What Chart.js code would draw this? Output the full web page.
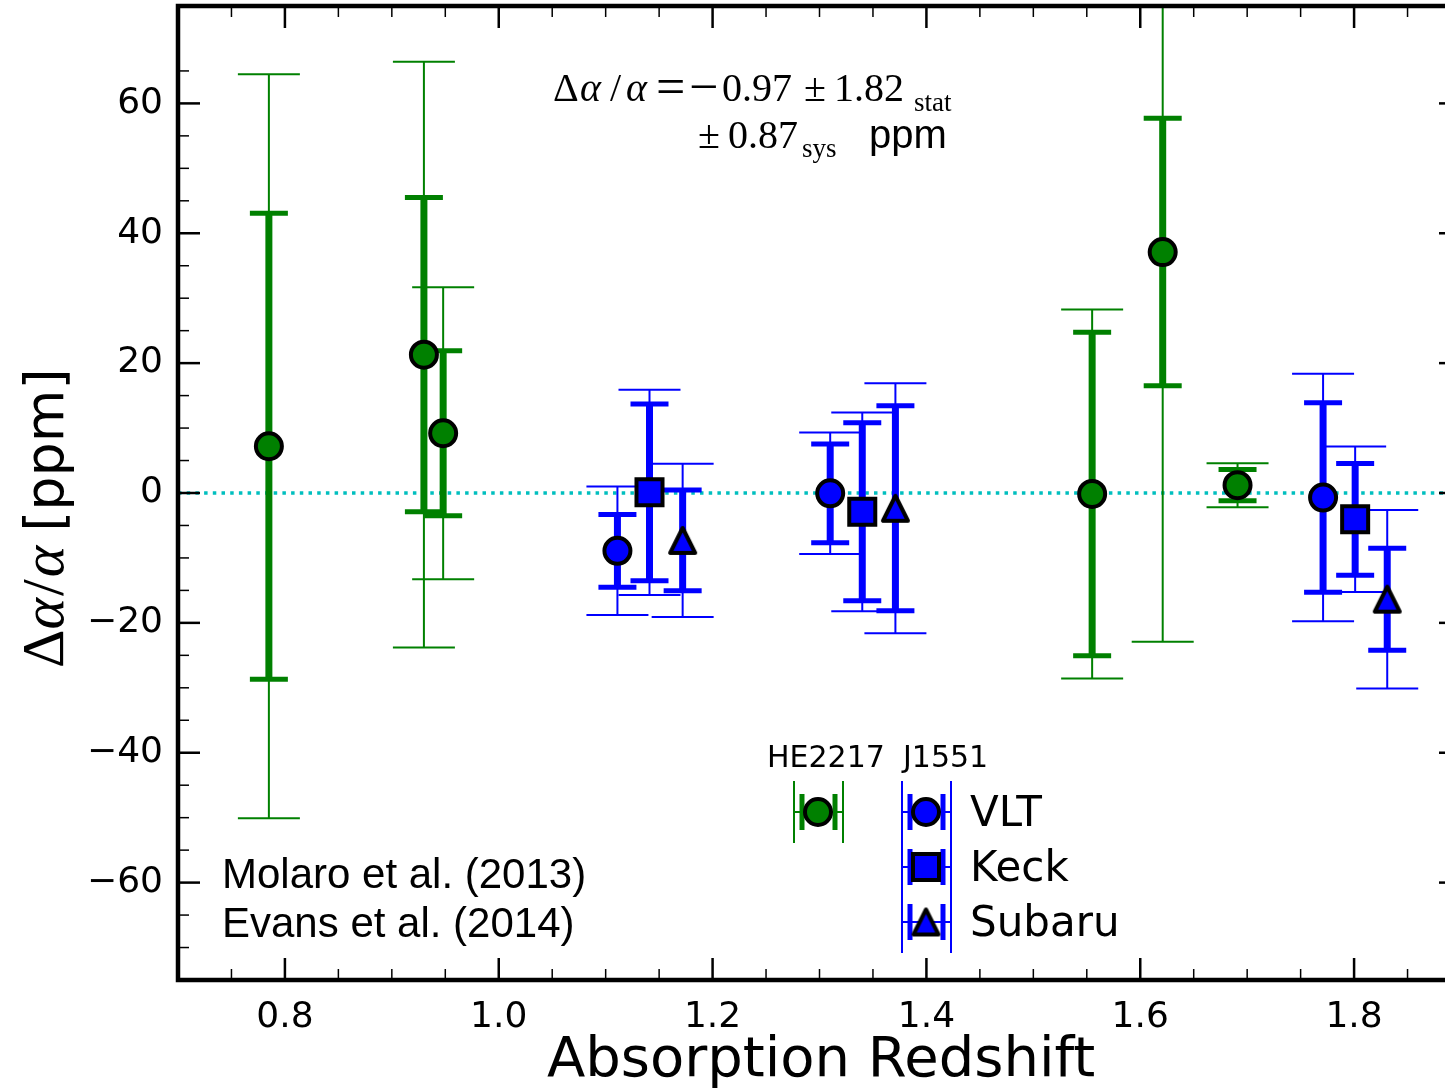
<!DOCTYPE html>
<html>
<head>
<meta charset="utf-8">
<script src="https://cdn.jsdelivr.net/npm/chart.js@4.4.1/dist/chart.umd.min.js"></script>
<style>
body { margin: 0; background: #fff; }
#wrap { width: 1445px; height: 1088px; overflow: hidden; }
</style>
</head>
<body>
<div id="wrap"><canvas id="chart" width="1461" height="1088"></canvas></div>
<script>
// ======================================
// DATA
// ======================================
// HE2217 (Molaro et al. 2013) - green
const heZ    = [0.785, 0.930, 0.948, 1.555, 1.621, 1.691];
const heVal  = [7.2, 21.3, 9.2, -0.15, 37.1, 1.2];
const heStat = [35.9, 24.2, 12.7, 24.9, 20.6, 2.4];
const heTot  = [57.3, 45.1, 22.5, 28.4, 60.0, 3.4];

// J1551 (Evans et al. 2014) - blue
const vltZ    = [1.111, 1.310, 1.771];
const vltVal  = [-8.9, -0.05, -0.7];
const vltStat = [5.6, 7.6, 14.6];
const vltTot  = [9.9, 9.35, 19.05];

const keckZ    = [1.141, 1.340, 1.801];
const keckVal  = [0.1, -2.9, -4.05];
const keckStat = [13.6, 13.7, 8.6];
const keckTot  = [15.8, 15.3, 11.2];

const subaruZ    = [1.172, 1.371, 1.831];
const subaruVal  = [-7.3, -2.35, -16.35];
const subaruStat = [7.75, 15.8, 7.85];
const subaruTot  = [11.8, 19.25, 13.75];

const zeroLine = 0;

const xTicks = [0.8, 1.0, 1.2, 1.4, 1.6, 1.8];
const xTickLabels = ["0.8", "1.0", "1.2", "1.4", "1.6", "1.8"];
const yTicks = [-60, -40, -20, 0, 20, 40, 60];
const yTickLabels = ["\u221260", "\u221240", "\u221220", "0", "20", "40", "60"];

const GREEN = "#008000";
const BLUE = "#0000ff";

// ======================================
// MARKERS
// ======================================
function makeTriangle(fill, h) {
    const c = document.createElement("canvas");
    const s = Math.ceil(2 * h + 16);
    c.width = s; c.height = s;
    const g = c.getContext("2d");
    const m = s / 2;
    g.beginPath();
    g.moveTo(m, m - h);
    g.lineTo(m - h, m + h);
    g.lineTo(m + h, m + h);
    g.closePath();
    g.fillStyle = fill;
    g.fill();
    g.lineWidth = 4;
    g.lineJoin = "round";
    g.strokeStyle = "#000";
    g.stroke();
    return c;
}
const triMarker = makeTriangle(BLUE, 12.5);

const pts = (zs, vs) => zs.map((z, i) => ({ x: z, y: vs[i] }));

// ======================================
// ERROR BARS + ANNOTATIONS PLUGIN
// ======================================
const errSets = [
    { z: heZ, v: heVal, stat: heStat, tot: heTot, color: GREEN },
    { z: vltZ, v: vltVal, stat: vltStat, tot: vltTot, color: BLUE },
    { z: keckZ, v: keckVal, stat: keckStat, tot: keckTot, color: BLUE },
    { z: subaruZ, v: subaruVal, stat: subaruStat, tot: subaruTot, color: BLUE }
];

function line(ctx, x1, y1, x2, y2) {
    ctx.beginPath();
    ctx.moveTo(x1, y1);
    ctx.lineTo(x2, y2);
    ctx.stroke();
}

const errorBars = {
    id: "errorBars",
    beforeDatasetsDraw(chart) {
        const { ctx, chartArea: a, scales: { x, y } } = chart;
        ctx.save();
        ctx.beginPath();
        ctx.rect(a.left, a.top, a.right - a.left, a.bottom - a.top);
        ctx.clip();

        // dotted zero line
        ctx.strokeStyle = "#00bfbf";
        ctx.lineWidth = 3.5;
        ctx.setLineDash([3.5, 5.2]);
        const y0 = y.getPixelForValue(zeroLine);
        line(ctx, a.left, y0, a.right, y0);
        ctx.setLineDash([]);

        errSets.forEach(s => {
            ctx.strokeStyle = s.color;
            s.z.forEach((z, i) => {
                const px = x.getPixelForValue(z);
                const top = y.getPixelForValue(s.v[i] + s.tot[i]);
                const bot = y.getPixelForValue(s.v[i] - s.tot[i]);
                ctx.lineWidth = 2;
                line(ctx, px, top, px, bot);
                line(ctx, px - 31, top, px + 31, top);
                line(ctx, px - 31, bot, px + 31, bot);
            });
            s.z.forEach((z, i) => {
                const px = x.getPixelForValue(z);
                const top = y.getPixelForValue(s.v[i] + s.stat[i]);
                const bot = y.getPixelForValue(s.v[i] - s.stat[i]);
                ctx.lineWidth = 7;
                line(ctx, px, top, px, bot);
                ctx.lineWidth = 5;
                line(ctx, px - 19, top, px + 19, top);
                line(ctx, px - 19, bot, px + 19, bot);
            });
        });
        ctx.restore();
    },
    afterDatasetsDraw(chart) {
        const { ctx, chartArea: a, scales: { x, y } } = chart;
        ctx.save();

        // ticks (inward)
        ctx.strokeStyle = "#000";
        const xTick = (v, len, w) => {
            const p = x.getPixelForValue(v);
            ctx.lineWidth = w;
            line(ctx, p, a.bottom, p, a.bottom - len);
            line(ctx, p, a.top, p, a.top + len);
        };
        const yTick = (v, len, w) => {
            const p = y.getPixelForValue(v);
            ctx.lineWidth = w;
            line(ctx, a.left, p, a.left + len, p);
            line(ctx, a.right, p, a.right - len, p);
        };
        for (let k = 15; k <= 37; k++) {
            const v = k * 0.05;
            if (k % 4 !== 0) xTick(v, 11, 1.5);
        }
        for (let v = -70; v <= 65; v += 5) {
            if (v % 20 !== 0) yTick(v, 11, 1.5);
        }
        xTicks.forEach(v => xTick(v, 22, 2.5));
        yTicks.forEach(v => yTick(v, 22, 2.5));

        // frame
        ctx.lineWidth = 4.5;
        ctx.beginPath();
        ctx.moveTo(a.right, a.top);
        ctx.lineTo(a.left, a.top);
        ctx.lineTo(a.left, a.bottom);
        ctx.lineTo(a.right, a.bottom);
        ctx.stroke();

        // axis titles
        ctx.fillStyle = "#000";
        ctx.textBaseline = "alphabetic";
        ctx.textAlign = "center";
        ctx.font = "56px 'DejaVu Sans'";
        ctx.fillText("Absorption Redshift", 821, 1076);

        ctx.save();
        ctx.translate(63, 668);
        ctx.rotate(-Math.PI / 2);
        ctx.textAlign = "left";
        let cx = 0;
        const seg = (t, f, gap) => {
            ctx.font = f;
            ctx.fillText(t, cx, 0);
            cx += ctx.measureText(t).width + (gap || 0);
        };
        seg("\u0394", "60px 'Liberation Serif'", 0);
        seg("\u03b1", "italic 60px 'Liberation Serif'", 2);
        seg("/", "60px 'Liberation Serif'", 2);
        seg("\u03b1", "italic 60px 'Liberation Serif'", 14);
        seg("[ppm]", "54px 'DejaVu Sans'");
        ctx.restore();

        // result annotation
        ctx.textAlign = "left";
        const serif = "40px 'Liberation Serif'";
        const serifI = "italic 40px 'Liberation Serif'";
        const wide = "52px 'Liberation Serif'";
        const sub = "27px 'Liberation Serif'";
        const put = (t, f, px, py) => { ctx.font = f; ctx.fillText(t, px, py); };
        put("\u0394", serif, 553, 101);
        put("\u03b1", serifI, 580, 101);
        put("/", serif, 610, 101);
        put("\u03b1", serifI, 626, 101);
        put("=", wide, 656, 104);
        put("\u2212", wide, 689, 104);
        put("0.97", serif, 722, 101);
        put("\u00b1", serif, 804, 101);
        put("1.82", serif, 834, 101);
        put("stat", sub, 914, 111);
        put("\u00b1", serif, 698, 148);
        put("0.87", serif, 728, 148);
        put("sys", sub, 802, 157);
        put("ppm", "40px 'Liberation Sans'", 869, 148);

        // references
        ctx.font = "42px 'Liberation Sans'";
        ctx.fillText("Molaro et al. (2013)", 222, 888);
        ctx.fillText("Evans et al. (2014)", 222, 937);

        // legend
        ctx.font = "30px 'DejaVu Sans'";
        ctx.fillText("HE2217", 767, 767);
        ctx.fillText("J1551", 903, 767);

        const legErr = (cxp, cyp, color) => {
            ctx.strokeStyle = color;
            ctx.lineWidth = 2;
            line(ctx, cxp - 24, cyp, cxp + 24, cyp);
            ctx.lineWidth = 5;
            line(ctx, cxp - 16, cyp - 18, cxp - 16, cyp + 18);
            line(ctx, cxp + 17, cyp - 18, cxp + 17, cyp + 18);
        };
        // green
        ctx.strokeStyle = GREEN;
        ctx.lineWidth = 2;
        line(ctx, 794, 781, 794, 843);
        line(ctx, 843, 781, 843, 843);
        legErr(818, 812, GREEN);
        // blue
        ctx.strokeStyle = BLUE;
        ctx.lineWidth = 2;
        line(ctx, 902, 781, 902, 953);
        line(ctx, 951, 781, 951, 953);
        [812, 867, 922].forEach(r => legErr(926, r, BLUE));

        ctx.lineWidth = 4;
        ctx.strokeStyle = "#000";
        ctx.beginPath();
        ctx.arc(818, 812, 13, 0, Math.PI * 2);
        ctx.fillStyle = GREEN; ctx.fill(); ctx.stroke();
        ctx.beginPath();
        ctx.arc(926, 812, 13, 0, Math.PI * 2);
        ctx.fillStyle = BLUE; ctx.fill(); ctx.stroke();
        ctx.beginPath();
        ctx.rect(913, 854, 26, 26);
        ctx.fill(); ctx.stroke();
        ctx.drawImage(triMarker, 926 - triMarker.width / 2, 922 - triMarker.height / 2);

        ctx.fillStyle = "#000";
        ctx.font = "42px 'DejaVu Sans'";
        ctx.fillText("VLT", 970, 826);
        ctx.fillText("Keck", 970, 881);
        ctx.fillText("Subaru", 970, 936);

        ctx.restore();
    }
};

// ======================================
// CHART INIT
// ======================================
const ctx = document.getElementById("chart");
const chart = new Chart(ctx, {
    type: "scatter",
    data: {
        datasets: [
            {
                label: "HE2217",
                data: pts(heZ, heVal),
                pointStyle: "circle",
                pointRadius: 13,
                backgroundColor: GREEN,
                borderColor: "#000",
                borderWidth: 4
            },
            {
                label: "VLT",
                data: pts(vltZ, vltVal),
                pointStyle: "circle",
                pointRadius: 13,
                backgroundColor: BLUE,
                borderColor: "#000",
                borderWidth: 4
            },
            {
                label: "Keck",
                data: pts(keckZ, keckVal),
                pointStyle: "rect",
                pointRadius: 18.4,
                backgroundColor: BLUE,
                borderColor: "#000",
                borderWidth: 4
            },
            {
                label: "Subaru",
                data: pts(subaruZ, subaruVal),
                pointStyle: triMarker,
                pointRadius: 14,
                backgroundColor: BLUE,
                borderColor: "#000",
                borderWidth: 0
            }
        ]
    },
    options: {
        responsive: false,
        animation: false,
        devicePixelRatio: 1,
        layout: { autoPadding: false, padding: { top: 6, right: 0, left: 0, bottom: 0 } },
        plugins: { legend: { display: false }, tooltip: { enabled: false } },
        scales: {
            x: {
                type: "linear",
                min: 0.7,
                max: 1.9,
                grid: { display: false, drawTicks: false },
                border: { display: false },
                afterBuildTicks: s => { s.ticks = xTicks.map(v => ({ value: v })); },
                afterFit: s => {
                    s.height = 108;
                    s.paddingLeft = 0; s.paddingRight = 0;
                    s.paddingTop = 0; s.paddingBottom = 0;
                },
                ticks: {
                    padding: 16,
                    maxRotation: 0,
                    color: "#000",
                    font: { family: "DejaVu Sans", size: 36 },
                    callback: (v, i) => xTickLabels[i]
                }
            },
            y: {
                type: "linear",
                min: -75,
                max: 75,
                grid: { display: false, drawTicks: false },
                border: { display: false },
                afterBuildTicks: s => { s.ticks = yTicks.map(v => ({ value: v })); },
                afterFit: s => {
                    s.width = 178;
                    s.paddingLeft = 0; s.paddingRight = 0;
                    s.paddingTop = 0; s.paddingBottom = 0;
                },
                ticks: {
                    padding: 15,
                    color: "#000",
                    font: { family: "DejaVu Sans", size: 36 },
                    callback: (v, i) => yTickLabels[i]
                }
            }
        }
    },
    plugins: [errorBars]
});
</script>
</body>
</html>
